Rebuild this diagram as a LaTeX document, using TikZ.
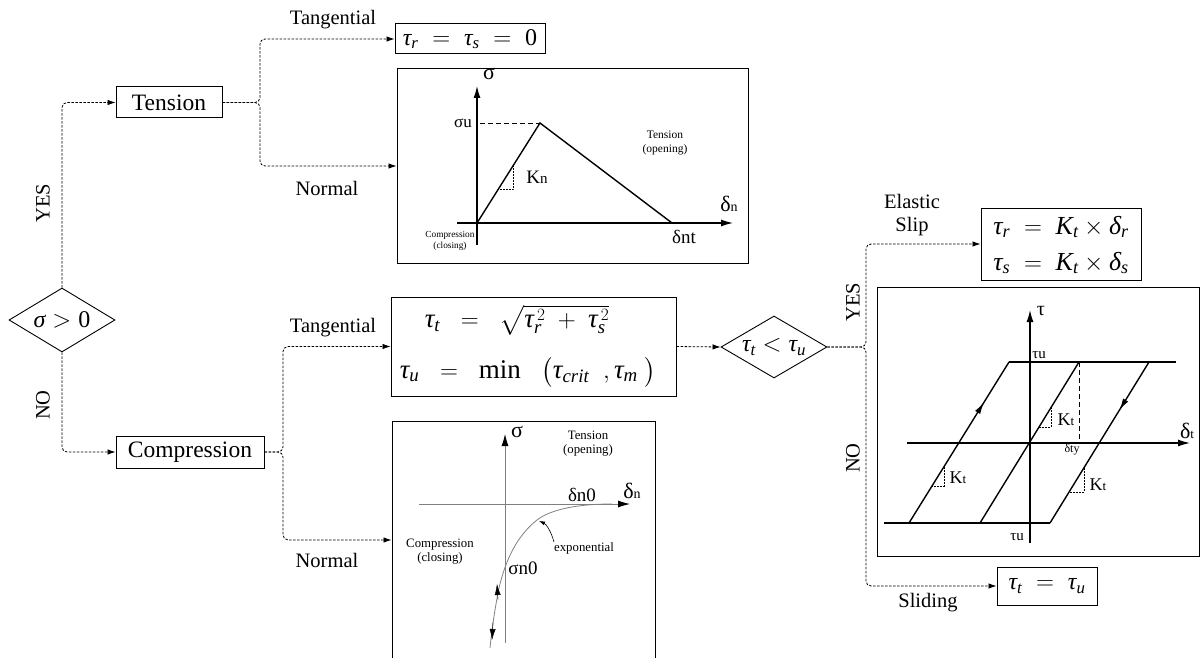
\documentclass[tikz,border=0pt]{standalone}
\usepackage{amsmath}
\usepackage{fontspec}
\setmainfont{Liberation Serif}
\usetikzlibrary{shapes.geometric,arrows.meta,decorations.markings}
\newcommand{\myfs}[1]{\fontsize{#1}{#1}\selectfont}
\newcommand{\vt}{\textit{τ}}
\newcommand{\vd}{\textit{δ}}
\newcommand{\vs}{\textit{σ}}
\begin{document}
\begin{tikzpicture}[x=1pt,y=-1pt,
  conn/.style={line width=0.8pt, dash pattern=on 2.5pt off 1.5pt, rounded corners=5pt, -{Latex[length=8pt,width=5.5pt]}},
  fbox/.style={draw, line width=1pt, inner sep=0pt},
  dia/.style={draw, diamond, aspect=1.7, line width=0.9pt, inner sep=0pt},
  lbl/.style={inner sep=0pt, font=\myfs{20.5}},
  btxt/.style={font=\myfs{23.5}},
  gframe/.style={draw, line width=1pt, inner sep=0pt},
  gl/.style={line width=1.4pt},
  ax/.style={line width=1.2pt, -{Latex[length=12pt,width=7pt]}},
  gax/.style={gray, line width=0.8pt, -{Latex[length=12pt,width=7pt,color=black]}},
  tri/.style={line width=0.6pt, dash pattern=on 2pt off 1pt},
  t/.style={inner sep=0pt}
]
\useasboundingbox (0,0) rectangle (1204,658);

% ---------- left decision ----------
\node[dia, aspect=1.66, minimum width=106, minimum height=64, font=\myfs{24}] (d1) at (62,320) {$\vs > \text{0}$};
\node[fbox, btxt, minimum width=106, minimum height=31] (tension) at (169,102.5) {Tension};
\node[fbox, btxt, minimum width=148, minimum height=32] (comp) at (190,452) {Compression};
\draw[conn] (d1.north) |- (tension.west);
\draw[conn] (d1.south) |- (comp.west);
\node[lbl, rotate=90] (yes1) at (43,203) {YES};
\node[lbl, rotate=90] (no1) at (43,405) {NO};

% ---------- tension branch ----------
\coordinate (b1) at (260,102.5);
\node[fbox, minimum width=150, minimum height=30, font=\myfs{24}] (z0) at (470,39) {$\vt_{\textit{r}} \;=\; \vt_{\textit{s}} \;=\; \text{0}$};
\node[gframe, minimum width=351, minimum height=194] (g1) at (572.5,166) {};
\draw[conn] (tension.east) -- (b1) |- (z0.west);
\draw[conn] (tension.east) -- (b1) |- (g1.west);
\node[lbl] (tg1) at (333,20) {Tangential};
\node[lbl] (nm1) at (327,188) {Normal};

% graph 1
\draw[ax] (477,245) -- (477,86);
\draw[ax] (457,223) -- (733,223);
\draw[gl] (477,223) -- (540,123) -- (672,223);
\draw[line width=0.9pt, dash pattern=on 5pt off 3pt] (480,123) -- (540,123);
\draw[tri] (513.5,165) -- (513.5,189) -- (498.4,189);
\node[t, font=\myfs{22}] (g1s) at (489,74) {σ};
\node[t, font=\myfs{17}] (g1su) at (463,123) {σu};
\node[t, font=\myfs{22}] (g1dn) at (729,204) {δ{\myfs{14}n}};
\node[t, font=\myfs{19}] (g1dnt) at (684,237) {δnt};
\node[t, font=\myfs{19}] (g1kn) at (537,177) {K{\myfs{15}n}};
\node[t, font=\myfs{11.5}, align=center] (g1ten) at (665,143) {Tension\\[2pt](opening)};
\node[t, font=\myfs{9.3}, align=center] (g1com) at (450,241) {Compression\\[1pt](closing)};

% ---------- compression branch ----------
\coordinate (b2) at (283,452);
\node[fbox, minimum width=285, minimum height=99] (f) at (533.5,346.5) {};
\node[t, font=\myfs{27}] (f1) at (517,320) {$\vt_{\textit{t}} \;\;=\;\; \sqrt{\vt_{\textit{r}}^{\,2} \;+\; \vt_{\textit{s}}^{\,2}}$};
\node[t, font=\myfs{27}] (f2) at (528,372) {$\vt_{\textit{u}} \;\;=\;\; \text{min}\;\;\;\bigl(\vt_{\textit{crit}}\;\;,\vt_{\textit{m}}\;\bigr)$};
\node[gframe, minimum width=263, minimum height=238] (g2) at (523.5,540) {};
\draw[conn] (comp.east) -- (b2) |- (f.west);
\draw[conn] (comp.east) -- (b2) |- (g2.west);
\node[lbl] (tg2) at (333,328) {Tangential};
\node[lbl] (nm2) at (327,560) {Normal};

% graph 2
\draw[gax] (505,643) -- (505,434);
\draw[gax] (419,504) -- (630,504);
\draw[gray, line width=0.8pt] (612,504) .. controls (575,504) and (550,510) .. (537,520)
   .. controls (518,535) and (506,558) .. (499,588) .. controls (495,608) and (492,628) .. (490,648);
\draw[-{Latex[length=11pt,width=6pt]}] (498,600) -- (497,584);
\draw[-{Latex[length=11pt,width=6pt]}] (493,622) -- (492,640);
\draw[line width=0.6pt, -{Latex[length=6pt,width=4pt]}] (554,542) .. controls (551,531) and (546,524) .. (539,521);
\node[t, font=\myfs{22}] (g2s) at (517,432) {σ};
\node[t, font=\myfs{22}] (g2dn) at (632,491) {δ{\myfs{14}n}};
\node[t, font=\myfs{19}] (g2dn0) at (582,495) {δn0};
\node[t, font=\myfs{19}] (g2sn0) at (523,568) {σn0};
\node[t, font=\myfs{12.8}, align=center] (g2ten) at (588,444) {Tension\\[1pt](opening)};
\node[t, font=\myfs{12.8}, align=center] (g2com) at (440,552) {Compression\\[1pt](closing)};
\node[t, font=\myfs{12.8}] (g2exp) at (584,548) {exponential};

% ---------- second decision ----------
\node[dia, minimum width=106, minimum height=62, font=\myfs{24}] (d2) at (774,347) {$\vt_{\textit{t}} < \vt_{\textit{u}}$};
\draw[conn] (f.east) -- (d2.west);
\coordinate (b3) at (866,347);
\node[fbox, minimum width=160, minimum height=72] (el) at (1061,244) {};
\node[t, font=\myfs{26}] (el1) at (1061,227) {$\vt_{\textit{r}} \;=\; \textit{K}_{\textit{t}} \times \vd_{\textit{r}}$};
\node[t, font=\myfs{26}] (el2) at (1061,263) {$\vt_{\textit{s}} \;=\; \textit{K}_{\textit{t}} \times \vd_{\textit{s}}$};
\node[fbox, minimum width=100, minimum height=38, font=\myfs{24}] (sl) at (1047,586) {$\vt_{\textit{t}} \;=\; \vt_{\textit{u}}$};
\node[gframe, minimum width=322, minimum height=269] (g3) at (1038,421.5) {};
\draw[conn] (d2.east) -- (b3) |- (el.west);
\draw[conn] (d2.east) -- (b3) |- (sl.west);
\node[lbl] (es1) at (912,201) {Elastic};
\node[lbl] (es2) at (912,227) {Slip};
\node[lbl] (sld) at (928,603) {Sliding};
\node[lbl, rotate=90] (yes2) at (853,302) {YES};
\node[lbl, rotate=90] (no2) at (853,458) {NO};

% graph 3
\draw[ax] (1030,543) -- (1030,310);
\draw[ax] (907,443) -- (1190,443);
\draw[gl] (1009,362) -- (1176,362);
\draw[gl] (884,523) -- (1050,523);
\draw[gl, postaction={decorate, decoration={markings, mark=at position 0.75 with {\arrow{Latex[length=12pt,width=6pt]}}}}] (909,523) -- (1009,362);
\draw[gl] (980,523) -- (1079,362);
\draw[gl, postaction={decorate, decoration={markings, mark=at position 0.3 with {\arrow{Latex[length=12pt,width=6pt]}}}}] (1149,362) -- (1050,523);
\draw[line width=0.9pt, dash pattern=on 5pt off 3pt] (1079,362) -- (1079,443);
\draw[tri] (1051.3,407) -- (1051.3,427) -- (1039,427);
\draw[tri] (943.8,467) -- (943.8,486) -- (932,486);
\draw[tri] (1083.8,468) -- (1083.8,492) -- (1069,492);
\node[t, font=\myfs{20}] (g3t) at (1041,311) {τ};
\node[t, font=\myfs{22}] (g3dt) at (1187,431) {δ{\myfs{13}t}};
\node[t, font=\myfs{15}] (g3tu1) at (1039,355) {τu};
\node[t, font=\myfs{15}] (g3tu2) at (1017,537) {τu};
\node[t, font=\myfs{12}] (g3dty) at (1072,450) {δty};
\node[t, font=\myfs{18}] (g3k1) at (1066,420) {K{\myfs{13}t}};
\node[t, font=\myfs{18}] (g3k2) at (958,478) {K{\myfs{13}t}};
\node[t, font=\myfs{18}] (g3k3) at (1098,485) {K{\myfs{13}t}};
\end{tikzpicture}
\end{document}
